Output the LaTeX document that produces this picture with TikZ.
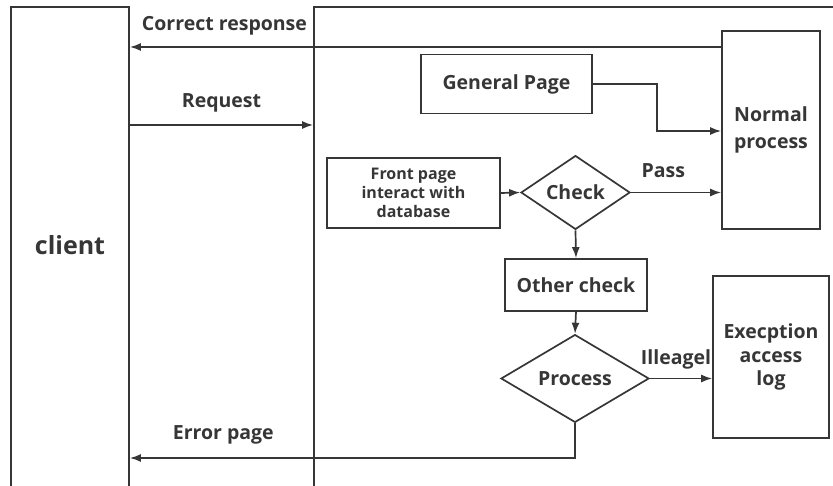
\documentclass[tikz,border=0pt]{standalone}
\usepackage{fontspec}
\setmainfont{Open Sans}
\usetikzlibrary{shapes.geometric,arrows.meta}
\definecolor{ink}{HTML}{363636}
\begin{document}
\begin{tikzpicture}[x=1pt,y=-1pt,
  every node/.style={font=\bfseries\fontsize{19.5}{27}\selectfont, text=ink},
  box/.style={draw=ink, line width=1.7pt, rectangle, inner sep=0pt, align=center},
  dia/.style={draw=ink, line width=1.7pt, diamond, inner sep=0pt, align=center},
  arr/.style={draw=ink, line width=1.7pt, -{Latex[length=11pt,width=8pt]}},
  lbl/.style={inner sep=0pt}]
\useasboundingbox (0,0) rectangle (833,486);
\clip (0,0) rectangle (833,486);
% outer lanes
\node[box, minimum width=118, minimum height=490] (client) at (70,252) {};
\node[font=\bfseries\fontsize{25}{30}\selectfont, text=ink] (clientlbl) at (70,245) {client};
\node[box, minimum width=530, minimum height=490] (server) at (579,252) {};
% inner boxes
\node[box, minimum width=98, minimum height=198] (normal) at (771,130) {Normal\\process};
\node[box, minimum width=171, minimum height=59] (gp) at (506.5,84) {General Page};
\node[box, minimum width=173, minimum height=70, font=\bfseries\fontsize{16}{19}\selectfont] (front) at (413.5,193) {Front page\\interact with\\database};
\node[dia, minimum width=109, minimum height=73] (check) at (575.5,192.5) {Check};
\node[box, minimum width=142, minimum height=52] (other) at (576,285) {Other check};
\node[dia, minimum width=148, minimum height=69] (proc) at (575,378.5) {Process};
\node[box, minimum width=116, minimum height=162, font=\bfseries\fontsize{19.5}{23.5}\selectfont] (exc) at (771,357) {Execption\\access\\log};
% connectors
\draw[arr] (normal.west |- 0,47) -- (client.east |- 0,47)
  node[lbl, pos=0.84, above=11pt] (l1) {Correct response};
\draw[arr] (client.east |- 0,125) -- (server.west |- 0,125)
  node[lbl, midway, above=12pt] (l2) {Request};
\draw[arr] (gp.east) -| (657,131) -- (normal.west |- 0,131);
\draw[arr] (front.east) -- (check.west);
\draw[arr] (check.east) -- (normal.west |- check.east)
  node[lbl, pos=0.36, above=14pt] (l3) {Pass};
\draw[arr] (check.south) -- (other.north);
\draw[arr] (other.south) -- (proc.north);
\draw[arr] (proc.east) -- (exc.west |- proc.east)
  node[lbl, pos=0.42, above=8pt] (l4) {Illeagel};
\draw[arr] (proc.south) |- (client.east |- 0,458)
  node[lbl, pos=0.895, above=13pt] (l5) {Error page};
\end{tikzpicture}
\end{document}
